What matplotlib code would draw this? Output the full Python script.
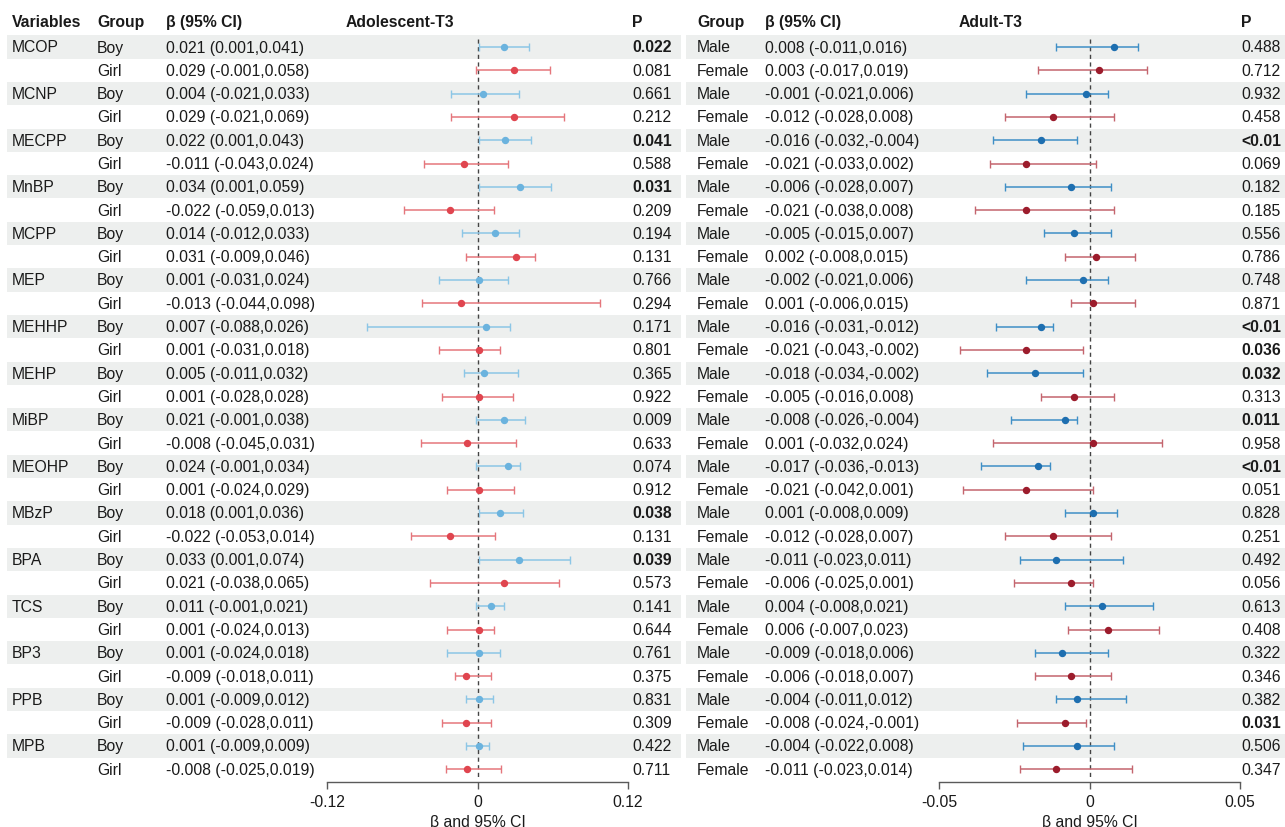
import matplotlib
matplotlib.use("Agg")
import matplotlib.pyplot as plt
from matplotlib.patches import Rectangle
import numpy as np

plt.rcParams["font.family"] = ["Liberation Sans", "DejaVu Sans"]

# ---- data -------------------------------------------------------------
variables = ["MCOP", "MCNP", "MECPP", "MnBP", "MCPP", "MEP", "MEHHP", "MEHP",
             "MiBP", "MEOHP", "MBzP", "BPA", "TCS", "BP3", "PPB", "MPB"]

# Adolescent-T3 (Boy / Girl alternating per variable)
teen_groups = ["Boy", "Girl"] * len(variables)
teen_beta = [0.021, 0.029, 0.004, 0.029, 0.022, -0.011, 0.034, -0.022,
             0.014, 0.031, 0.001, -0.013, 0.007, 0.001, 0.005, 0.001,
             0.021, -0.008, 0.024, 0.001, 0.018, -0.022, 0.033, 0.021,
             0.011, 0.001, 0.001, -0.009, 0.001, -0.009, 0.001, -0.008]
teen_lo = [0.001, -0.001, -0.021, -0.021, 0.001, -0.043, 0.001, -0.059,
           -0.012, -0.009, -0.031, -0.044, -0.088, -0.031, -0.011, -0.028,
           -0.001, -0.045, -0.001, -0.024, 0.001, -0.053, 0.001, -0.038,
           -0.001, -0.024, -0.024, -0.018, -0.009, -0.028, -0.009, -0.025]
teen_hi = [0.041, 0.058, 0.033, 0.069, 0.043, 0.024, 0.059, 0.013,
           0.033, 0.046, 0.024, 0.098, 0.026, 0.018, 0.032, 0.028,
           0.038, 0.031, 0.034, 0.029, 0.036, 0.014, 0.074, 0.065,
           0.021, 0.013, 0.018, 0.011, 0.012, 0.011, 0.009, 0.019]
teen_p = ["0.022", "0.081", "0.661", "0.212", "0.041", "0.588", "0.031", "0.209",
          "0.194", "0.131", "0.766", "0.294", "0.171", "0.801", "0.365", "0.922",
          "0.009", "0.633", "0.074", "0.912", "0.038", "0.131", "0.039", "0.573",
          "0.141", "0.644", "0.761", "0.375", "0.831", "0.309", "0.422", "0.711"]
teen_sig = [True, False, False, False, True, False, True, False,
            False, False, False, False, False, False, False, False,
            False, False, False, False, True, False, True, False,
            False, False, False, False, False, False, False, False]

# Adult-T3 (Male / Female alternating per variable)
adult_groups = ["Male", "Female"] * len(variables)
adult_beta = [0.008, 0.003, -0.001, -0.012, -0.016, -0.021, -0.006, -0.021,
              -0.005, 0.002, -0.002, 0.001, -0.016, -0.021, -0.018, -0.005,
              -0.008, 0.001, -0.017, -0.021, 0.001, -0.012, -0.011, -0.006,
              0.004, 0.006, -0.009, -0.006, -0.004, -0.008, -0.004, -0.011]
adult_lo = [-0.011, -0.017, -0.021, -0.028, -0.032, -0.033, -0.028, -0.038,
            -0.015, -0.008, -0.021, -0.006, -0.031, -0.043, -0.034, -0.016,
            -0.026, -0.032, -0.036, -0.042, -0.008, -0.028, -0.023, -0.025,
            -0.008, -0.007, -0.018, -0.018, -0.011, -0.024, -0.022, -0.023]
adult_hi = [0.016, 0.019, 0.006, 0.008, -0.004, 0.002, 0.007, 0.008,
            0.007, 0.015, 0.006, 0.015, -0.012, -0.002, -0.002, 0.008,
            -0.004, 0.024, -0.013, 0.001, 0.009, 0.007, 0.011, 0.001,
            0.021, 0.023, 0.006, 0.007, 0.012, -0.001, 0.008, 0.014]
adult_p = ["0.488", "0.712", "0.932", "0.458", "<0.01", "0.069", "0.182", "0.185",
           "0.556", "0.786", "0.748", "0.871", "<0.01", "0.036", "0.032", "0.313",
           "0.011", "0.958", "<0.01", "0.051", "0.828", "0.251", "0.492", "0.056",
           "0.613", "0.408", "0.322", "0.346", "0.382", "0.031", "0.506", "0.347"]
adult_sig = [False, False, False, False, True, False, False, False,
             False, False, False, False, True, True, True, False,
             True, False, True, False, False, False, False, False,
             False, False, False, False, False, True, False, False]

teen_ticks = [-0.12, 0, 0.12]
adult_ticks = [-0.05, 0, 0.05]
tick_labels_teen = ["-0.12", "0", "0.12"]
tick_labels_adult = ["-0.05", "0", "0.05"]

# ---- layout (figure pixel coordinates) ---------------------------------
W, H = 1285, 828
fig = plt.figure(figsize=(W / 100, H / 100), dpi=100)
bg = fig.add_axes([0, 0, 1, 1])
bg.set_xlim(0, W)
bg.set_ylim(H, 0)
bg.axis("off")

n = len(teen_beta)
row0, dy = 48.0, 23.3
ys = row0 + dy * np.arange(n)
header_y = 22.5
axis_y = 783.0
FS = 11.3
TXT = "#1a1a1a"
STRIPE = "#edefee"

# zebra stripes on every first row of each variable
for i in range(0, n, 2):
    bg.add_patch(Rectangle((7, ys[i] - dy / 2), 674, dy, color=STRIPE, lw=0, zorder=0))
    bg.add_patch(Rectangle((686, ys[i] - dy / 2), W - 686, dy, color=STRIPE, lw=0, zorder=0))

# headers
hdr = dict(fontsize=FS, fontweight="bold", va="center", ha="left", color=TXT)
bg.text(12, header_y, "Variables", **hdr)
bg.text(97, header_y, "Group", **hdr)
bg.text(166, header_y, "β (95% CI)", **hdr)
bg.text(346, header_y, "Adolescent-T3", **hdr)
bg.text(632, header_y, "P", **hdr)
bg.text(697, header_y, "Group", **hdr)
bg.text(765, header_y, "β (95% CI)", **hdr)
bg.text(959, header_y, "Adult-T3", **hdr)
bg.text(1241, header_y, "P", **hdr)

def ci_text(b, lo, hi):
    return f"{b:.3f} ({lo:.3f},{hi:.3f})"

body = dict(fontsize=FS, va="center", ha="left", color=TXT)
for i in range(n):
    y = ys[i]
    if i % 2 == 0:
        bg.text(12, y, variables[i // 2], **body)
    bg.text(97, y, teen_groups[i], **body)
    bg.text(166, y, ci_text(teen_beta[i], teen_lo[i], teen_hi[i]), **body)
    bg.text(632, y, teen_p[i], fontweight="bold" if teen_sig[i] else "normal", **body)
    bg.text(697, y, adult_groups[i], **body)
    bg.text(765, y, ci_text(adult_beta[i], adult_lo[i], adult_hi[i]), **body)
    bg.text(1241, y, adult_p[i], fontweight="bold" if adult_sig[i] else "normal", **body)


def forest(x0, x1, lim, ticks, labels, beta, lo, hi, styles):
    ax = fig.add_axes([x0 / W, (H - axis_y) / H, (x1 - x0) / W, (axis_y - 36) / H])
    ax.set_facecolor("none")
    ax.set_xlim(-lim, lim)
    ax.set_ylim(axis_y, 36)
    beta = np.asarray(beta)
    lo = np.asarray(lo)
    hi = np.asarray(hi)
    ax.plot([0, 0], [40, axis_y - 4], ls=(0, (3, 2.5)), color="#444444", lw=1.0, zorder=1)
    for k, (ecol, mcol) in enumerate(styles):
        idx = np.arange(k, n, 2)
        ax.errorbar(beta[idx], ys[idx],
                    xerr=[beta[idx] - lo[idx], hi[idx] - beta[idx]],
                    fmt="o", ms=4.3, mfc=mcol, mec=mcol, ecolor=ecol,
                    elinewidth=1.1, capsize=3, capthick=1.0, zorder=3)
    for side in ("top", "right", "left"):
        ax.spines[side].set_visible(False)
    ax.spines["bottom"].set_color("#5a5a5a")
    ax.spines["bottom"].set_linewidth(1.0)
    ax.set_yticks([])
    ax.set_xticks(ticks)
    ax.set_xticklabels(labels)
    ax.tick_params(axis="x", direction="out", length=5, width=1.0, color="#5a5a5a",
                   labelsize=FS, labelcolor=TXT, pad=4)
    ax.set_xlabel("β and 95% CI", fontsize=FS, color=TXT, labelpad=3)
    return ax


forest(327, 628, 0.12, teen_ticks, tick_labels_teen, teen_beta, teen_lo, teen_hi,
       [("#8cc6e6", "#6bb3de"), ("#e5767c", "#e0454f")])
forest(939, 1240, 0.05, adult_ticks, tick_labels_adult, adult_beta, adult_lo, adult_hi,
       [("#3f8fc6", "#1e6fb0"), ("#c4656e", "#9c1c2c")])

fig.savefig("out.png", dpi=100)
